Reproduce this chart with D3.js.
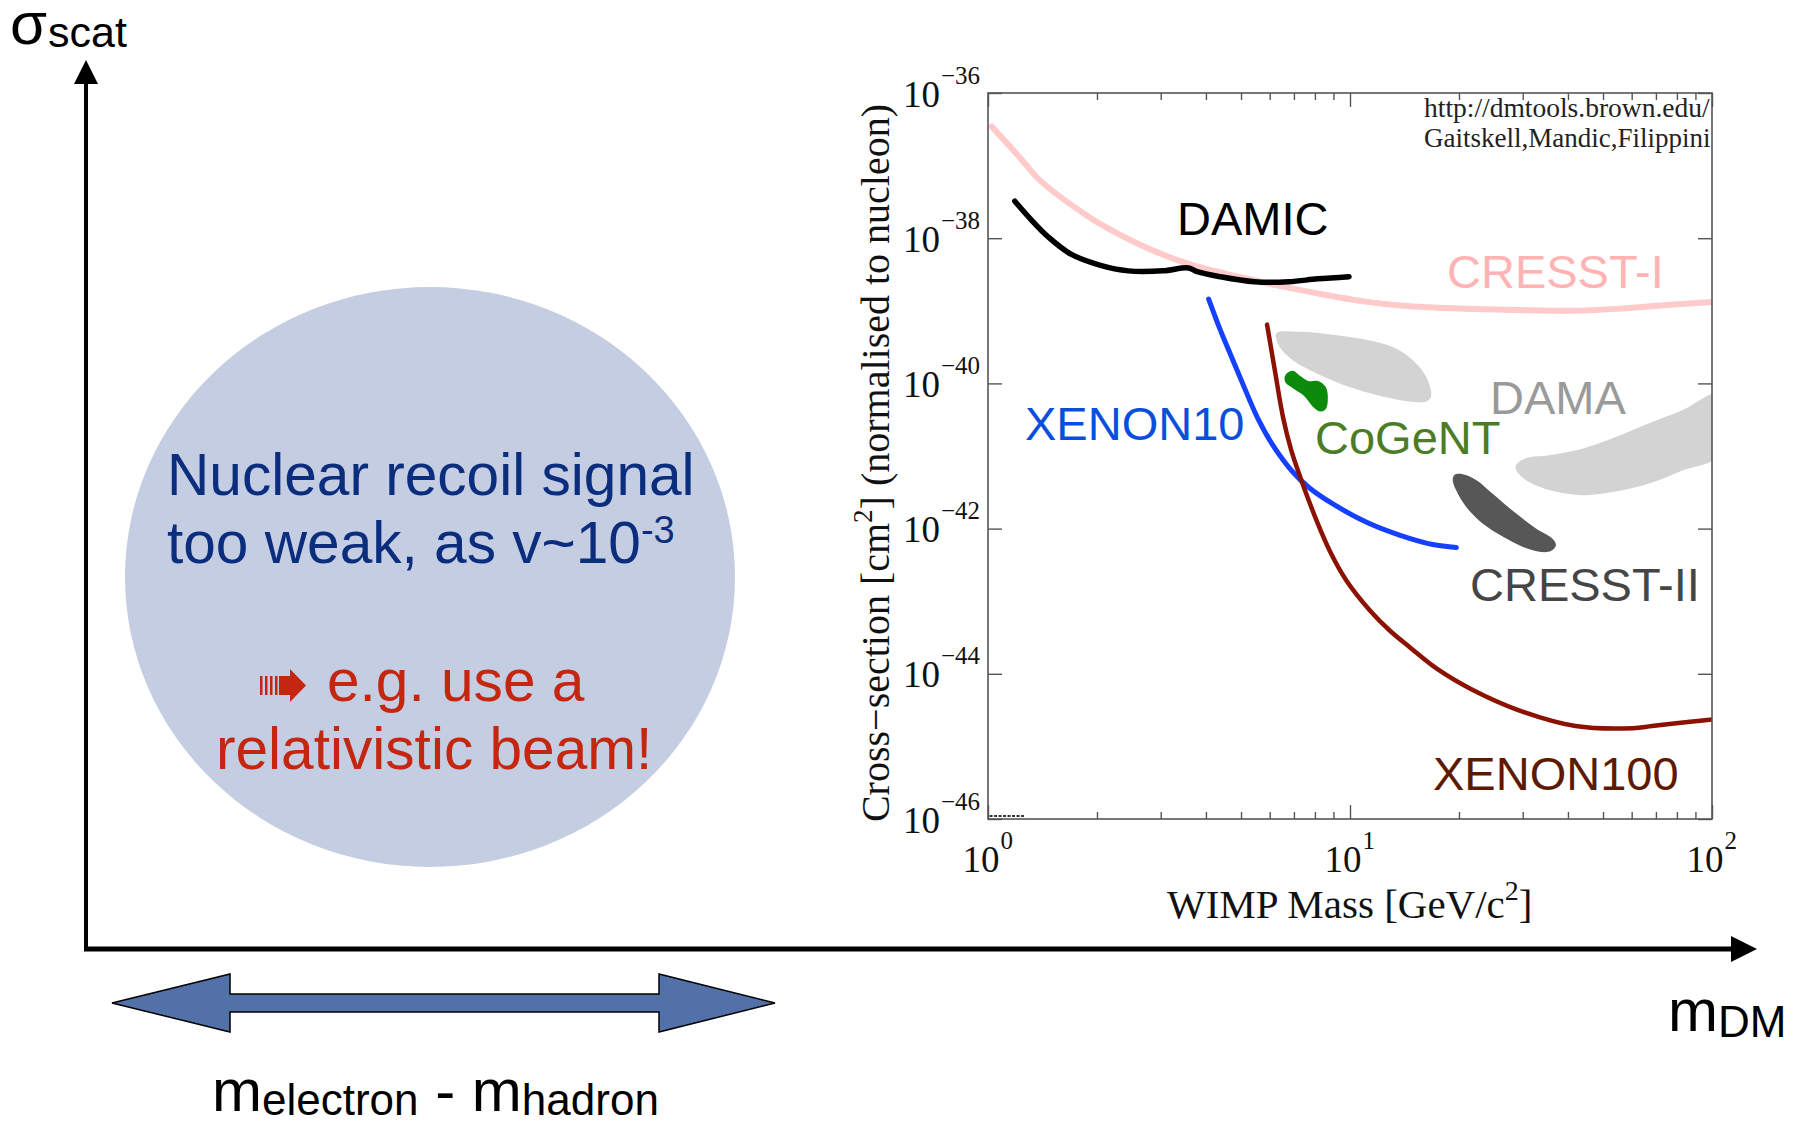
<!DOCTYPE html>
<html>
<head>
<meta charset="utf-8">
<script src="https://cdn.jsdelivr.net/npm/d3@7"></script>
<style>
  body { margin: 0; background: #fff; }
  svg { display: block; }
</style>
</head>
<body>
<div id="plot"></div>
<script>
// ---- data (mass in GeV/c^2, cross-section as log10 of cm^2) ----
const massMajorTicks = [1, 10, 100];
const massMinorTicks = [2, 3, 4, 5, 6, 7, 8, 9, 20, 30, 40, 50, 60, 70, 80, 90];
const sigmaExpTicks = [-36, -38, -40, -42, -44, -46];

const cresst1Mass = [1.023, 1.175, 1.279, 1.39, 1.892, 2.27, 2.825, 3.516, 4.71, 6.295, 8.128, 10.89, 14.06, 20.23, 29.17, 40.46, 56.23, 75.16, 100];
const cresst1Exp  = [-36.46, -36.79, -37.00, -37.20, -37.70, -37.93, -38.16, -38.34, -38.51, -38.65, -38.76, -38.87, -38.93, -38.97, -38.99, -39.00, -38.97, -38.92, -38.88];

const damicMass = [1.186, 1.313, 1.465, 1.695, 2.034, 2.441, 3.04, 3.58, 3.783, 4.377, 5.445, 6.774, 8.135, 9.94];
const damicExp  = [-37.49, -37.74, -37.98, -38.22, -38.37, -38.45, -38.45, -38.41, -38.46, -38.53, -38.60, -38.60, -38.56, -38.53];

const xenon10Mass = [4.07, 4.37, 4.71, 5.06, 5.55, 6.12, 6.95, 7.73, 8.97, 11.08, 13.7, 16.92, 19.67];
const xenon10Exp  = [-38.84, -39.25, -39.64, -40.01, -40.47, -40.85, -41.22, -41.44, -41.66, -41.91, -42.09, -42.22, -42.26];

const xenon100Mass = [5.9, 6.19, 6.54, 6.88, 7.18, 7.57, 8.07, 8.78, 9.76, 11.32, 12.85, 14.59, 17.49, 21.77, 29.15, 41.98, 60.42, 68.3, 87.0, 100];
const xenon100Exp  = [-39.19, -39.80, -40.48, -40.92, -41.20, -41.52, -41.88, -42.30, -42.71, -43.12, -43.40, -43.63, -43.94, -44.22, -44.50, -44.72, -44.75, -44.72, -44.66, -44.63];

const damaAMass = [6.26, 7.26, 8.97, 11.08, 13.13, 14.91, 16.23, 16.75, 16.23, 14.59, 12.31, 9.97, 8.07, 6.95, 6.39];
const damaAExp  = [-39.31, -39.29, -39.33, -39.40, -39.50, -39.68, -39.91, -40.18, -40.25, -40.25, -40.18, -40.05, -39.86, -39.68, -39.50];

const damaBMass = [28.7, 30.6, 35.5, 43.9, 54.2, 67.0, 82.8, 104, 104, 82.8, 67.0, 54.2, 43.9, 35.5, 30.6, 29.0];
const damaBExp  = [-41.13, -41.03, -40.99, -40.90, -40.74, -40.55, -40.37, -40.15, -40.99, -41.20, -41.38, -41.49, -41.54, -41.47, -41.33, -41.22];

const cogentMass = [6.67, 6.95, 7.26, 7.65, 8.15, 8.51, 8.63, 8.51, 8.24, 7.90, 7.49, 6.95, 6.67];
const cogentExp  = [-39.89, -39.84, -39.91, -39.98, -39.98, -40.05, -40.19, -40.35, -40.37, -40.30, -40.16, -40.05, -39.98];

const cresst2Mass = [19.43, 20.48, 22.29, 24.77, 28.73, 32.64, 36.26, 37.06, 35.89, 33.33, 29.97, 26.4, 23.25, 20.92, 19.63, 19.22];
const cresst2Exp  = [-41.26, -41.25, -41.33, -41.52, -41.79, -42.00, -42.14, -42.23, -42.31, -42.32, -42.25, -42.11, -41.93, -41.70, -41.47, -41.33];

const zip = (a, b) => a.map((v, i) => [v, b[i]]);

// ---- svg ----
const W = 1806, H = 1124;
const svg = d3.select("#plot").append("svg")
  .attr("width", W).attr("height", H)
  .style("font-family", "'Liberation Sans', Arial, sans-serif");

svg.append("rect").attr("width", W).attr("height", H).attr("fill", "#fff");

// ---- big schematic axes ----
const axisX0 = 86, axisY0 = 949;
svg.append("line").attr("x1", axisX0).attr("y1", axisY0 + 2).attr("x2", axisX0).attr("y2", 80)
  .attr("stroke", "#000").attr("stroke-width", 4);
svg.append("path").attr("d", `M${axisX0},60 L${axisX0 + 12},84 L${axisX0 - 12},84 Z`).attr("fill", "#000");
svg.append("line").attr("x1", axisX0 - 2).attr("y1", axisY0).attr("x2", 1737).attr("y2", axisY0)
  .attr("stroke", "#000").attr("stroke-width", 5);
svg.append("path").attr("d", `M1757,${axisY0} L1731,${axisY0 - 13} L1731,${axisY0 + 13} Z`).attr("fill", "#000");

// sigma_scat
const sig = svg.append("text").attr("x", 10).attr("y", 44).attr("fill", "#000");
sig.append("tspan").attr("font-size", 60).text("σ");
sig.append("tspan").attr("font-size", 43).attr("dx", 1).attr("dy", 3).text("scat");

// m_DM
const mdm = svg.append("text").attr("x", 1668).attr("y", 1031).attr("fill", "#000");
mdm.append("tspan").attr("font-size", 60).text("m");
mdm.append("tspan").attr("font-size", 44).attr("dy", 6).text("DM");

// double arrow
svg.append("path")
  .attr("d", "M112,1003 L230,974 L230,994 L659,994 L659,974 L775,1003 L659,1032 L659,1012 L230,1012 L230,1032 Z")
  .attr("fill", "#5171a8").attr("stroke", "#000").attr("stroke-width", 1.5);

const mm = svg.append("text").attr("x", 212).attr("y", 1111).attr("fill", "#000");
mm.append("tspan").attr("font-size", 60).text("m");
mm.append("tspan").attr("font-size", 44).attr("dy", 4).text("electron");
mm.append("tspan").attr("font-size", 60).attr("dy", -4).text(" - m");
mm.append("tspan").attr("font-size", 44).attr("dy", 4).text("hadron");

// ---- ellipse with message ----
svg.append("ellipse").attr("cx", 430).attr("cy", 577).attr("rx", 305).attr("ry", 290).attr("fill", "#c4cde2");

const blue = "#0b2d7e", red = "#c4260f";
svg.append("text").attr("x", 167).attr("y", 495).attr("font-size", 58.6).attr("fill", blue).text("Nuclear recoil signal");
const t2 = svg.append("text").attr("x", 167).attr("y", 563).attr("font-size", 58.6).attr("fill", blue);
t2.append("tspan").text("too weak, as v~10");
t2.append("tspan").attr("font-size", 38).attr("dy", -20).text("-3");

// striped arrow glyph
const ga = svg.append("g").attr("fill", red);
[260, 265, 270, 275].forEach(px => ga.append("rect").attr("x", px).attr("y", 676).attr("width", 2.5).attr("height", 19));
ga.append("path").attr("d", "M279,676 L290,676 L290,669 L306,685.5 L290,702 L290,695 L279,695 Z");

svg.append("text").attr("x", 327).attr("y", 701).attr("font-size", 58.6).attr("fill", red).text("e.g. use a");
svg.append("text").attr("x", 216).attr("y", 769).attr("font-size", 58.6).attr("fill", red).text("relativistic beam!");

// ---- inset exclusion plot ----
const box = {left: 988, right: 1712, top: 93, bottom: 819};
const x = d3.scaleLog().domain([1, 100]).range([box.left, box.right]);
const y = d3.scaleLog().domain([1e-46, 1e-36]).range([box.bottom, box.top]);
const yE = e => y(Math.pow(10, e));

const serif = "'Liberation Serif', 'Times New Roman', serif";
const plot = svg.append("g");

plot.append("clipPath").attr("id", "clip").append("rect")
  .attr("x", box.left).attr("y", box.top).attr("width", box.right - box.left).attr("height", box.bottom - box.top);

const lineGen = d3.line().x(d => x(d[0])).y(d => yE(d[1])).curve(d3.curveCatmullRom.alpha(0.5));
const blobGen = d3.line().x(d => x(d[0])).y(d => yE(d[1])).curve(d3.curveCatmullRomClosed.alpha(0.5));

const marks = plot.append("g").attr("clip-path", "url(#clip)");

marks.append("path").attr("d", blobGen(zip(damaAMass, damaAExp))).attr("fill", "#d3d3d3");
marks.append("path").attr("d", blobGen(zip(damaBMass, damaBExp))).attr("fill", "#d3d3d3");
marks.append("path").attr("d", blobGen(zip(cresst2Mass, cresst2Exp))).attr("fill", "#575757");
marks.append("path").attr("d", blobGen(zip(cogentMass, cogentExp))).attr("fill", "#0b8a0b")
  .attr("stroke", "#0b8a0b").attr("stroke-width", 2);

marks.append("path").attr("d", lineGen(zip(cresst1Mass, cresst1Exp)))
  .attr("fill", "none").attr("stroke", "#ffcaca").attr("stroke-width", 6).attr("stroke-linecap", "round");
marks.append("path").attr("d", lineGen(zip(damicMass, damicExp)))
  .attr("fill", "none").attr("stroke", "#000").attr("stroke-width", 5.5).attr("stroke-linecap", "round");
marks.append("path").attr("d", lineGen(zip(xenon10Mass, xenon10Exp)))
  .attr("fill", "none").attr("stroke", "#1640ff").attr("stroke-width", 5).attr("stroke-linecap", "round");
marks.append("path").attr("d", lineGen(zip(xenon100Mass, xenon100Exp)))
  .attr("fill", "none").attr("stroke", "#8b1200").attr("stroke-width", 4.5).attr("stroke-linecap", "round");

// small dashed remnant at bottom left
marks.append("line")
  .attr("x1", x(1.01)).attr("x2", x(1.27)).attr("y1", box.bottom - 3).attr("y2", box.bottom - 3)
  .attr("stroke", "#333").attr("stroke-width", 2).attr("stroke-dasharray", "3,1.5");

// frame
plot.append("rect")
  .attr("x", box.left).attr("y", box.top).attr("width", box.right - box.left).attr("height", box.bottom - box.top)
  .attr("fill", "none").attr("stroke", "#555").attr("stroke-width", 1.6);

function styleAxis(g) {
  g.select(".domain").remove();
  g.selectAll(".tick line").attr("stroke", "#555").attr("stroke-width", 1.4);
}

// x ticks bottom & top
plot.append("g").attr("transform", `translate(0,${box.bottom})`)
  .call(d3.axisBottom(x).tickValues(massMinorTicks).tickSize(-7).tickFormat("")).call(styleAxis);
plot.append("g").attr("transform", `translate(0,${box.top})`)
  .call(d3.axisTop(x).tickValues(massMinorTicks).tickSize(-7).tickFormat("")).call(styleAxis);
plot.append("g").attr("transform", `translate(0,${box.top})`)
  .call(d3.axisTop(x).tickValues(massMajorTicks).tickSize(-14).tickFormat("")).call(styleAxis);
const xMaj = plot.append("g").attr("transform", `translate(0,${box.bottom})`)
  .call(d3.axisBottom(x).tickValues(massMajorTicks).tickSize(-14).tickFormat("")).call(styleAxis);
xMaj.selectAll(".tick").append("text")
  .attr("x", -26).attr("y", 53).attr("text-anchor", "start")
  .attr("font-family", serif).attr("font-size", 37).attr("fill", "#111")
  .each(function (d) {
    const t = d3.select(this);
    t.append("tspan").text("10");
    t.append("tspan").attr("font-size", 25).attr("dy", -23).attr("dx", 1).text(Math.round(Math.log10(d)));
  });

// y ticks left & right
const sigmaTickVals = sigmaExpTicks.map(e => Math.pow(10, e));
const yLeft = plot.append("g").attr("transform", `translate(${box.left},0)`)
  .call(d3.axisLeft(y).tickValues(sigmaTickVals).tickSize(-14).tickFormat("")).call(styleAxis);
plot.append("g").attr("transform", `translate(${box.right},0)`)
  .call(d3.axisRight(y).tickValues(sigmaTickVals).tickSize(-14).tickFormat("")).call(styleAxis);
yLeft.selectAll(".tick").append("text")
  .attr("x", -85).attr("y", 13).attr("text-anchor", "start")
  .attr("font-family", serif).attr("font-size", 37).attr("fill", "#111")
  .each(function (d, i) {
    const t = d3.select(this);
    t.append("tspan").text("10");
    t.append("tspan").attr("font-size", 25).attr("dy", -23).attr("dx", 1)
      .text("\u2212" + Math.abs(sigmaExpTicks[i]));
  });

// axis titles
const xt = plot.append("text").attr("x", 1167).attr("y", 918)
  .attr("font-family", serif).attr("font-size", 41).attr("fill", "#111");
xt.append("tspan").text("WIMP Mass [GeV/c");
xt.append("tspan").attr("font-size", 28).attr("dy", -18).text("2");
xt.append("tspan").attr("dy", 18).text("]");

const yt = plot.append("text").attr("transform", "translate(889,463) rotate(-90)")
  .attr("text-anchor", "middle")
  .attr("font-family", serif).attr("font-size", 40).attr("fill", "#111");
yt.append("tspan").text("Cross\u2212section [cm");
yt.append("tspan").attr("font-size", 27).attr("dy", -17).text("2");
yt.append("tspan").attr("dy", 17).text("] (normalised to nucleon)");

// credit
plot.append("text").attr("x", 1424).attr("y", 117).attr("font-family", serif).attr("font-size", 27.5)
  .attr("fill", "#222").text("http://dmtools.brown.edu/");
plot.append("text").attr("x", 1424).attr("y", 147).attr("font-family", serif).attr("font-size", 27)
  .attr("fill", "#222").text("Gaitskell,Mandic,Filippini");

// experiment labels
const labelFont = 47;
const labels = [
  {text: "DAMIC", x: 1177, y: 235, color: "#000"},
  {text: "CRESST-I", x: 1447, y: 288, color: "#ffb3b3"},
  {text: "DAMA", x: 1490, y: 414, color: "#9a9a9a"},
  {text: "XENON10", x: 1025, y: 440, color: "#0a4fdc"},
  {text: "CoGeNT", x: 1315, y: 454, color: "#4a7d25"},
  {text: "CRESST-II", x: 1470, y: 601, color: "#454545"},
  {text: "XENON100", x: 1433, y: 790, color: "#5e1a00"}
];
plot.selectAll("text.lbl").data(labels).enter().append("text")
  .attr("class", "lbl")
  .attr("x", d => d.x).attr("y", d => d.y)
  .attr("font-size", labelFont).attr("fill", d => d.color)
  .text(d => d.text);
</script>
</body>
</html>
